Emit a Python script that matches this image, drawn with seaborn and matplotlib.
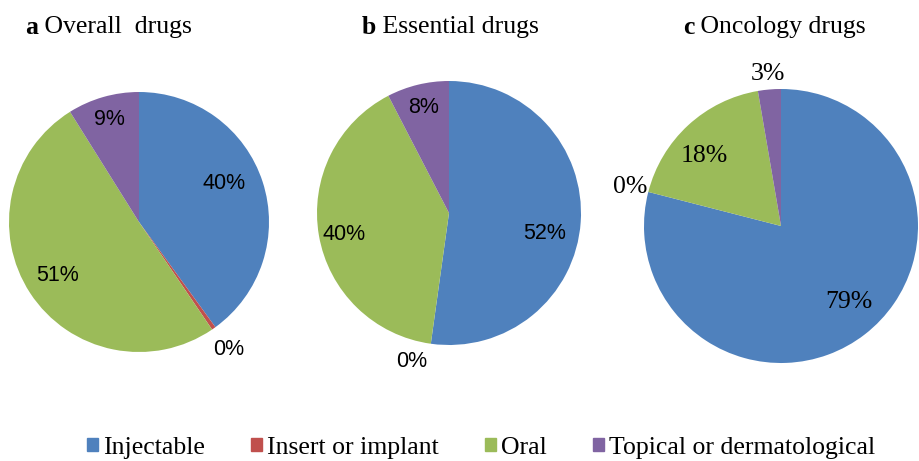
import numpy as np
import matplotlib
matplotlib.use("Agg")
import matplotlib.pyplot as plt
import matplotlib.patches as mpatches
import seaborn as sns

categories = ["Injectable", "Insert or implant", "Oral", "Topical or dermatological"]
overall = [40.0, 0.5, 50.6, 8.9]
essential = [52.2, 0.0, 40.2, 7.6]
oncology = [79.0, 0.0, 18.3, 2.7]
titles_letter = ["a", "b", "c"]
titles_text = [" Overall  drugs", " Essential drugs", " Oncology drugs"]

colors = ["#4F81BD", "#C0504D", "#9BBB59", "#8064A2"]

sns.set_theme(style="white")
plt.rcParams['font.family'] = ['Liberation Serif', 'DejaVu Serif']

W, H = 919, 461
fig = plt.figure(figsize=(W / 100, H / 100), dpi=100)

# pie geometry in pixels: (cx, cy from top, radius)
geoms = [(139, 222, 130), (449, 213, 132), (781, 226, 137)]
label_dist = [
    [0.72, 1.20, 0.75, 0.82],
    [0.74, 1.16, 0.81, 0.82],
    [0.74, 1.14, 0.76, 1.11],
]
label_shift = [
    [-6, 0, 0, 0],
    [8, 6, -2, 0],
    [-4, 0, -5, 0],
]
label_font = ["Liberation Sans", "Liberation Sans", "Liberation Serif"]
label_size = [15.5, 15.5, 18.5]
title_x = [25, 362, 683]

for i, (vals, (cx, cy, r)) in enumerate(zip([overall, essential, oncology], geoms)):
    ax = fig.add_axes([(cx - r) / W, (H - cy - r) / H, 2 * r / W, 2 * r / H])
    wedges, _ = ax.pie(vals, colors=colors, startangle=90, counterclock=False,
                       radius=1, wedgeprops=dict(linewidth=0))
    ax.set_xlim(-1, 1)
    ax.set_ylim(-1, 1)
    ax.set_aspect("auto")
    ax.axis("off")
    for w, v, d, s in zip(wedges, vals, label_dist[i], label_shift[i]):
        mid = np.deg2rad((w.theta1 + w.theta2) / 2 - s)
        ax.text(d * np.cos(mid), d * np.sin(mid), f"{int(round(v))}%",
                ha="center", va="center", fontsize=label_size[i], color="black",
                family=[label_font[i], "DejaVu Sans"], clip_on=False)
    # title
    t = fig.text(title_x[i] / W, 1 - 27 / H, titles_letter[i], fontsize=18.5,
                 fontweight="bold", ha="left", va="center", color="black")
    fig.canvas.draw()
    bb = t.get_window_extent()
    fig.text(bb.x1 / W, 1 - 27 / H, titles_text[i], fontsize=18.5,
             ha="left", va="center", color="black")

handles = [mpatches.Patch(color=c, label=l) for c, l in zip(colors, categories)]
leg = fig.legend(handles=handles, loc="center", bbox_to_anchor=(0.5234, 1 - 448 / H),
                 ncol=4, frameon=False, fontsize=18.5, handlelength=0.42, handleheight=0.42,
                 handletextpad=0.2, columnspacing=1.8)
for txt in leg.get_texts():
    txt.set_color("black")

fig.savefig("out.png", dpi=100)
